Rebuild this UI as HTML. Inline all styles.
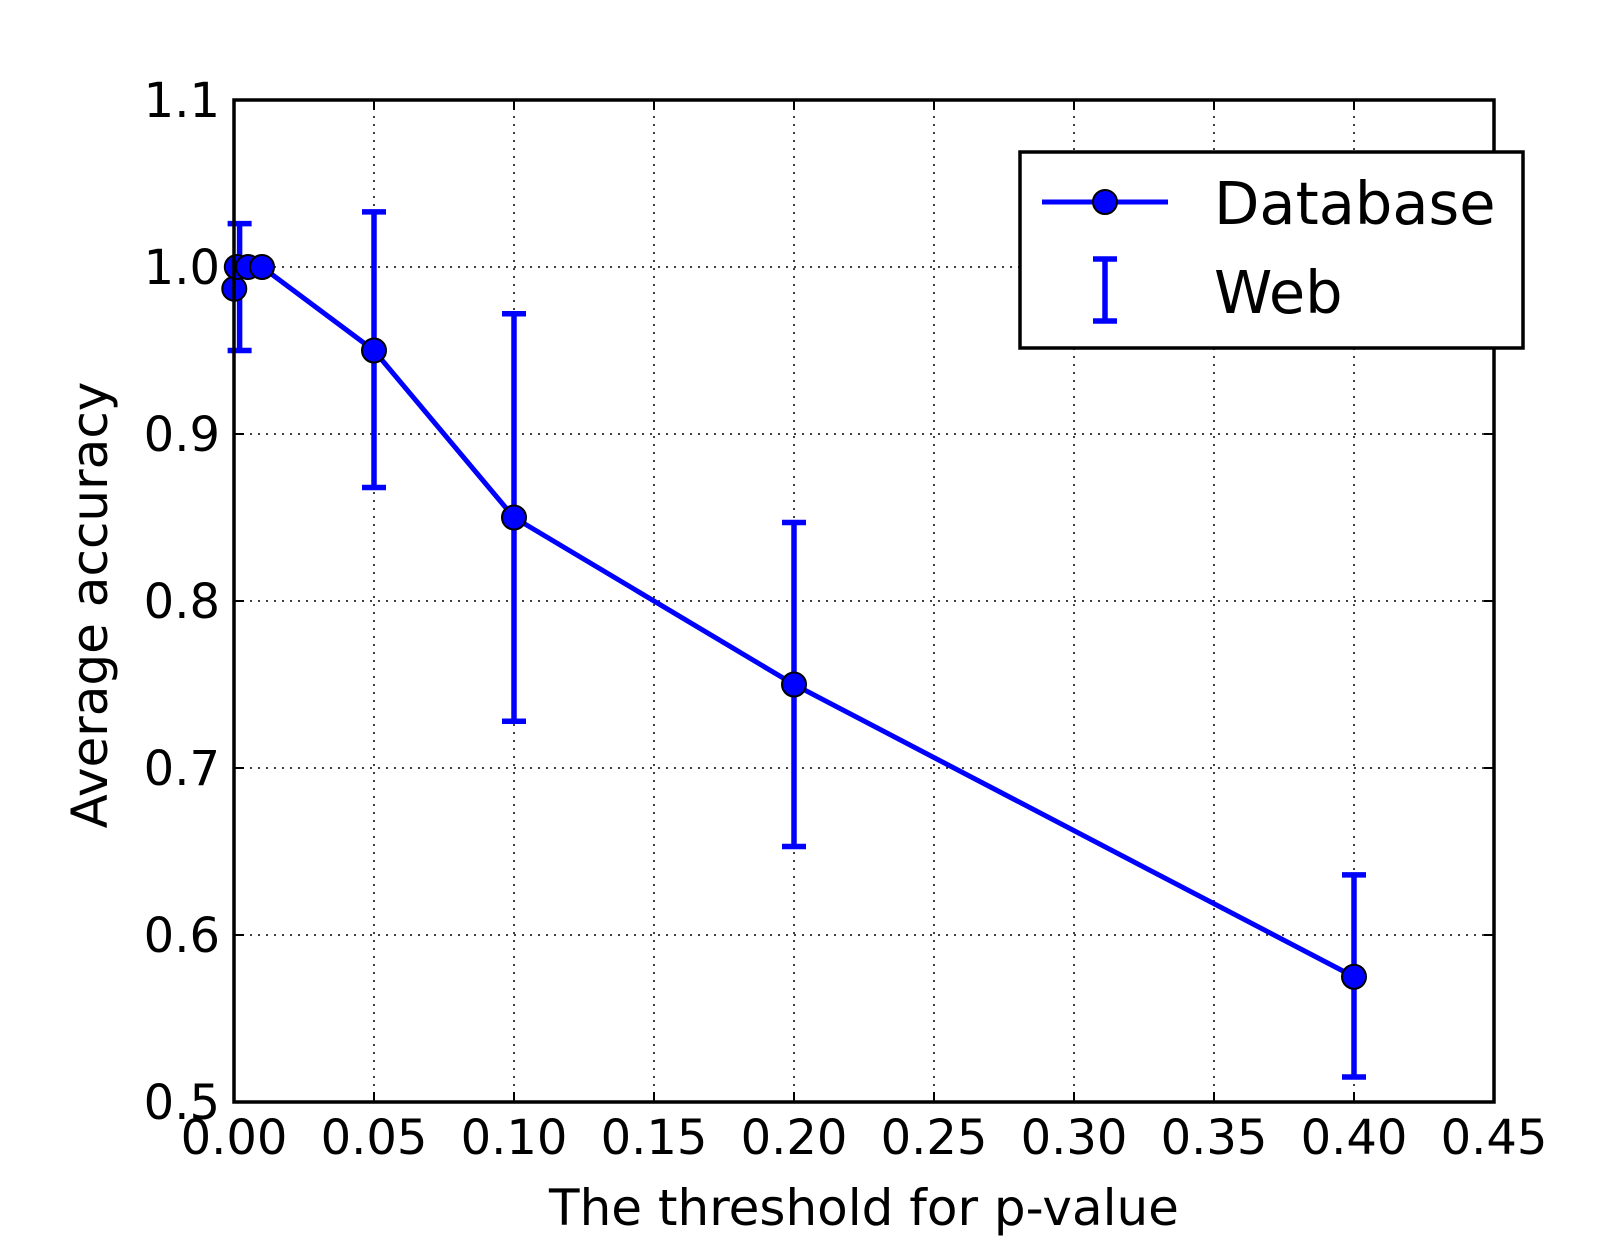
<!DOCTYPE html>
<html><head><meta charset="utf-8"><style>
body{margin:0;background:#fff}
svg text{font-family:"DejaVu Sans","Liberation Sans",sans-serif;fill:#000}
</style></head><body>
<svg id="chart" width="1624" height="1254" viewBox="0 0 1624 1254" xmlns="http://www.w3.org/2000/svg">
<rect width="1624" height="1254" fill="#fff"/>
<g id="grid"></g>
<g id="ticks"></g>
<g id="series"></g>
<rect x="234" y="100" width="1260" height="1002" fill="none" stroke="#000" stroke-width="3.5"/>
<text x="864" y="1225" font-size="50" text-anchor="middle">The threshold for p-value</text>
<text transform="translate(107,605) rotate(-90)" font-size="50" text-anchor="middle">Average accuracy</text>
<g>
<rect x="1020" y="152" width="503" height="196" fill="#fff" stroke="#000" stroke-width="3.5"/>
<line x1="1042" y1="202" x2="1168" y2="202" stroke="#0000ff" stroke-width="5"/>
<circle cx="1105" cy="202" r="12" fill="#0000ff" stroke="#000" stroke-width="2"/>
<text x="1214" y="224" font-size="59">Database</text>
<line x1="1105" y1="259" x2="1105" y2="321" stroke="#0000ff" stroke-width="5.5"/>
<line x1="1093" y1="259" x2="1117" y2="259" stroke="#0000ff" stroke-width="5.5"/>
<line x1="1093" y1="321" x2="1117" y2="321" stroke="#0000ff" stroke-width="5.5"/>
<text x="1214" y="313" font-size="59">Web</text>
</g>
</svg>
<script>
const xTicks=[0,0.05,0.1,0.15,0.2,0.25,0.3,0.35,0.4,0.45];
const xTickLabels=["0.00","0.05","0.10","0.15","0.20","0.25","0.30","0.35","0.40","0.45"];
const yTicks=[0.5,0.6,0.7,0.8,0.9,1.0,1.1];
const yTickLabels=["0.5","0.6","0.7","0.8","0.9","1.0","1.1"];
const dbX=[0.0001,0.001,0.005,0.01,0.05,0.1,0.2,0.4];
const dbY=[0.987,1.0,1.0,1.0,0.95,0.85,0.75,0.575];
const webX=[0.002,0.05,0.1,0.2,0.4];
const webLow=[0.95,0.868,0.728,0.653,0.515];
const webHigh=[1.026,1.033,0.972,0.847,0.636];
const L=234,R=1494,T=100,B=1102;
const sx=v=>L+(v-0)/(0.45)*(R-L);
const sy=v=>B-(v-0.5)/(0.6)*(B-T);
const NS="http://www.w3.org/2000/svg";
function mk(tag,attrs,parent){const e=document.createElementNS(NS,tag);for(const k in attrs)e.setAttribute(k,attrs[k]);parent.appendChild(e);return e;}
const grid=document.getElementById('grid'),ticks=document.getElementById('ticks'),series=document.getElementById('series');
xTicks.forEach((t,i)=>{const x=sx(t);
 const g=mk('line',{x1:x,x2:x,y1:T,y2:B,stroke:'#000','stroke-width':1.5,'stroke-dasharray':'2,6'},grid);
 
 
 mk('line',{x1:x,x2:x,y1:B,y2:B-10,stroke:'#000','stroke-width':2},ticks);
 mk('line',{x1:x,x2:x,y1:T,y2:T+10,stroke:'#000','stroke-width':2},ticks);
 const tx=mk('text',{x:x,y:B+52,'font-size':48,'text-anchor':'middle'},ticks);tx.textContent=xTickLabels[i];
 
 
});
yTicks.forEach((t,i)=>{const y=sy(t);
 const g=mk('line',{x1:L,x2:R,y1:y,y2:y,stroke:'#000','stroke-width':1.5,'stroke-dasharray':'2,6'},grid);
 
 
 mk('line',{x1:L,x2:L+10,y1:y,y2:y,stroke:'#000','stroke-width':2},ticks);
 mk('line',{x1:R,x2:R-10,y1:y,y2:y,stroke:'#000','stroke-width':2},ticks);
 const tx=mk('text',{x:L-14,y:y+17,'font-size':48,'text-anchor':'end'},ticks);tx.textContent=yTickLabels[i];
 
 
});
webX.forEach((v,i)=>{const x=sx(v),y1=sy(webLow[i]),y2=sy(webHigh[i]);
 const g=mk('g',{stroke:'#0000ff','stroke-width':5.5},series);
 
 
 mk('line',{x1:x,x2:x,y1:y1,y2:y2},g);
 mk('line',{x1:x-12,x2:x+12,y1:y1,y2:y1},g);
 mk('line',{x1:x-12,x2:x+12,y1:y2,y2:y2},g);
});
const pl=mk('polyline',{points:dbX.map((v,i)=>sx(v)+','+sy(dbY[i])).join(' '),fill:'none',stroke:'#0000ff','stroke-width':5},series);


dbX.forEach((v,i)=>{const c=mk('circle',{cx:sx(v),cy:sy(dbY[i]),r:12,fill:'#0000ff',stroke:'#000','stroke-width':2},series);
 
 
});
</script>
</body></html>
